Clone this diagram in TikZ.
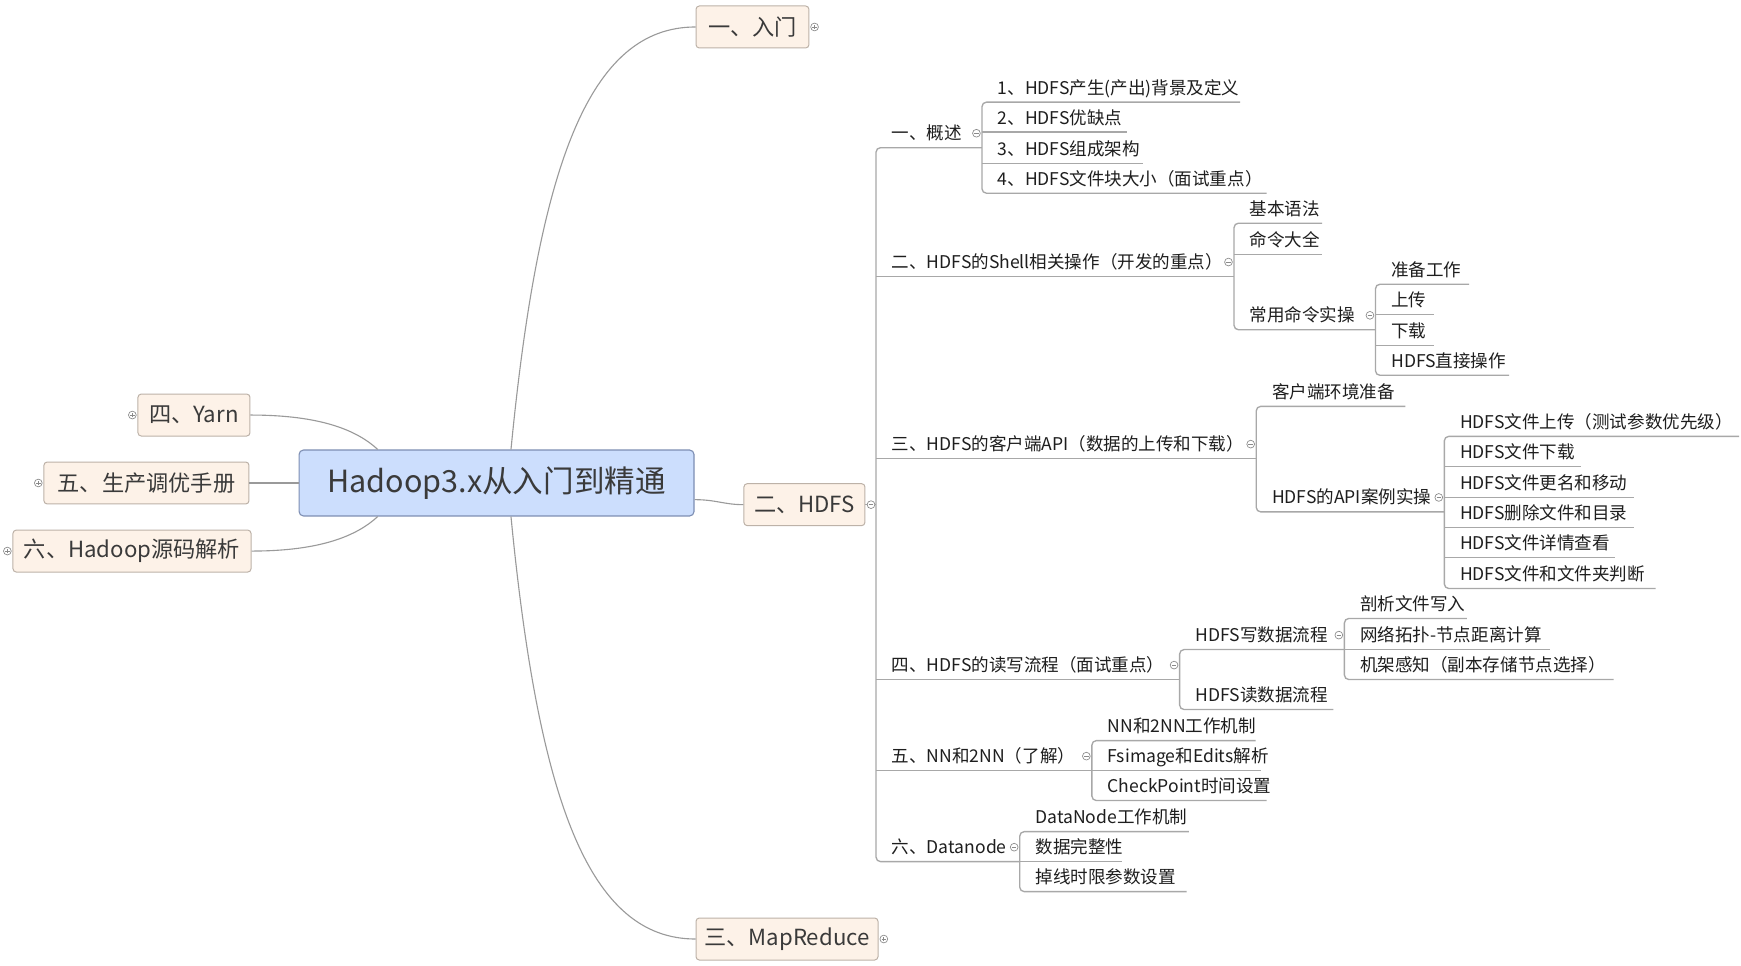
\documentclass[tikz,border=0pt]{standalone}
\usepackage{fontspec}
\setmainfont{Noto Sans CJK SC}
\usetikzlibrary{calc}
\definecolor{linec}{HTML}{A8A8A8}
\definecolor{curvec}{HTML}{9A9A9A}
\definecolor{rootf}{HTML}{CCDEFD}
\definecolor{rootb}{HTML}{7D8EB3}
\definecolor{mainf}{HTML}{FDF2E8}
\definecolor{mainb}{HTML}{BDB2A8}
\definecolor{txt}{HTML}{3A3A3A}
\definecolor{stxt}{HTML}{1E1E1E}
\definecolor{mkc}{HTML}{8A8A8A}
\tikzset{
  rootbox/.style={draw=rootb, fill=rootf, rounded corners=4pt, line width=1pt,
    minimum width=355.7pt, minimum height=59.4pt, inner sep=0pt,
    font=\fontsize{27.5}{30}\selectfont, text=txt},
  mainbox/.style={draw=mainb, fill=mainf, rounded corners=3pt, line width=0.9pt,
    minimum height=37.8pt, inner sep=0pt, font=\fontsize{20}{23}\selectfont, text=txt},
  sub/.style={anchor=south west, inner xsep=14pt, inner ysep=4pt, text height=12pt,
    text depth=3pt, align=left, text width=#1pt,
    font=\fontsize{15.8}{18}\selectfont, text=stxt},
  ul/.style={draw=linec, line width=1.2pt},
  br/.style={ul, rounded corners=4pt},
  conn/.style={draw=curvec, line width=1pt},
  mk/.style={circle, draw=mkc, fill=white, line width=0.6pt, minimum size=7pt, inner sep=0pt},
  mminus/.style={mk, path picture={\draw[mkc, line width=0.7pt]
     ([xshift=-2pt]path picture bounding box.center) -- ([xshift=2pt]path picture bounding box.center);}},
  mplus/.style={mk, path picture={\draw[mkc, line width=0.7pt]
     ([xshift=-2pt]path picture bounding box.center) -- ([xshift=2pt]path picture bounding box.center)
     ([yshift=-2pt]path picture bounding box.center) -- ([yshift=2pt]path picture bounding box.center);}},
}
\begin{document}
\begin{tikzpicture}[x=1pt,y=-1pt]
\useasboundingbox (0,0) rectangle (1568,870);
\fill[white] (0,0) rectangle (1568,870);

% root and main topics
\node[rootbox] (root) at (447.2,435) {Hadoop3.x从入门到精通};
\node[mainbox, minimum width=101.7pt] (rm) at (677.7,24.3) {一、入门};
\node[mainbox, minimum width=163.9pt] (mr) at (708.8,845.7) {三、MapReduce};
\node[mainbox, minimum width=100.9pt] (yarn) at (174.7,373.8) {四、Yarn};
\node[mainbox, minimum width=184.7pt] (wu) at (131.9,435) {五、生产调优手册};
\node[mainbox, minimum width=214.4pt] (liu) at (118.9,496.3) {六、Hadoop源码解析};
\node[mainbox, minimum width=109pt] (hdfs) at (724.5,454.5) {二、HDFS};

% root connectors
\draw[conn] ([xshift=13pt]root.north) .. controls (485,150) and (530,24.3) .. (rm.west);
\draw[conn] ([xshift=13pt]root.south) .. controls (485,720) and (530,845.7) .. (mr.west);
\draw[conn] (yarn.east) .. controls (290,373.8) and (322,388) .. ([xshift=-107pt]root.north);
\draw[conn] (wu.east) -- (root.west);
\draw[conn] (liu.east) .. controls (290,496.3) and (322,482) .. ([xshift=-107pt]root.south);
\draw[conn] ([yshift=-15pt]root.east) .. controls (645,450) and (652,454.5) .. (hdfs.west);

% HDFS level 1
\node[sub=67]  (gs)  at (789,133) {一、概述};
\node[sub=294] (sh)  at (789,249) {\mbox{二、HDFS的Shell相关操作（开发的重点）}};
\node[sub=314] (api) at (789,413) {\mbox{三、HDFS的客户端API（数据的上传和下载）}};
\node[sub=245] (rw)  at (789,612) {\mbox{四、HDFS的读写流程（面试重点）}};
\node[sub=166] (nn)  at (789,694) {\mbox{五、NN和2NN（了解）}};
\node[sub=101] (dn)  at (789,776) {六、Datanode};

% 概述
\node[sub=204] (g1) at (gs.south east |- 0,92)  {\mbox{1、HDFS产生(产出)背景及定义}};
\node[sub=102] (g2) at (gs.south east |- 0,119) {2、HDFS优缺点};
\node[sub=117] (g3) at (gs.south east |- 0,147) {3、HDFS组成架构};
\node[sub=228] (g4) at (gs.south east |- 0,174) {\mbox{4、HDFS文件块大小（面试重点）}};

% Shell
\node[sub=51] (s1) at (sh.south east |- 0,201) {基本语法};
\node[sub=51] (s2) at (sh.south east |- 0,229) {命令大全};
\node[sub=99] (s3) at (sh.south east |- 0,297) {常用命令实操};
\node[sub=56] (s31) at (s3.south east |- 0,256) {准备工作};
\node[sub=24] (s32) at (s3.south east |- 0,283) {上传};
\node[sub=24] (s33) at (s3.south east |- 0,311) {下载};
\node[sub=92] (s34) at (s3.south east |- 0,338) {HDFS直接操作};

% API
\node[sub=106] (a1) at (api.south east |- 0,366) {客户端环境准备};
\node[sub=141] (a2) at (api.south east |- 0,461) {HDFS的API案例实操};
\node[sub=237] (a21) at (a2.south east |- 0,393) {\mbox{HDFS文件上传（测试参数优先级）}};
\node[sub=95]  (a22) at (a2.south east |- 0,420) {HDFS文件下载};
\node[sub=142] (a23) at (a2.south east |- 0,448) {HDFS文件更名和移动};
\node[sub=142] (a24) at (a2.south east |- 0,475) {HDFS删除文件和目录};
\node[sub=125] (a25) at (a2.south east |- 0,502) {HDFS文件详情查看};
\node[sub=162] (a26) at (a2.south east |- 0,530) {HDFS文件和文件夹判断};

% read / write
\node[sub=120] (r1) at (rw.south east |- 0,585) {HDFS写数据流程};
\node[sub=110] (r2) at (rw.south east |- 0,639) {HDFS读数据流程};
\node[sub=82]  (r11) at (r1.south east |- 0,557) {剖析文件写入};
\node[sub=157] (r12) at (r1.south east |- 0,585) {\mbox{网络拓扑-节点距离计算}};
\node[sub=214] (r13) at (r1.south east |- 0,612) {\mbox{机架感知（副本存储节点选择）}};

% NN
\node[sub=119] (n1) at (nn.south east |- 0,667) {NN和2NN工作机制};
\node[sub=124] (n2) at (nn.south east |- 0,694) {Fsimage和Edits解析};
\node[sub=129] (n3) at (nn.south east |- 0,721) {CheckPoint时间设置};

% Datanode
\node[sub=124] (d1) at (dn.south east |- 0,749) {DataNode工作机制};
\node[sub=64]  (d2) at (dn.south east |- 0,776) {数据完整性};
\node[sub=122] (d3) at (dn.south east |- 0,803) {掉线时限参数设置};

% spine of HDFS
\draw[ul] (hdfs.east) -- (hdfs.east -| gs.south west);
\draw[br] (gs.south east) -- (gs.south west) -- (dn.south west) -- (dn.south east);
\foreach \n in {sh,api,rw,nn} \draw[ul] (\n.south west) -- (\n.south east);

% brackets
\draw[br] (g1.south east) -- (g1.south west) -- (g4.south west) -- (g4.south east);
\foreach \n in {g2,g3} \draw[ul] (\n.south west) -- (\n.south east);

\draw[br] (s1.south east) -- (s1.south west) -- (s3.south west) -- (s3.south east);
\draw[ul] (s2.south west) -- (s2.south east);
\draw[br] (s31.south east) -- (s31.south west) -- (s34.south west) -- (s34.south east);
\foreach \n in {s32,s33} \draw[ul] (\n.south west) -- (\n.south east);

\draw[br] (a1.south east) -- (a1.south west) -- (a2.south west) -- (a2.south east);
\draw[br] (a21.south east) -- (a21.south west) -- (a26.south west) -- (a26.south east);
\foreach \n in {a22,a23,a24,a25} \draw[ul] (\n.south west) -- (\n.south east);

\draw[br] (r1.south east) -- (r1.south west) -- (r2.south west) -- (r2.south east);
\draw[br] (r11.south east) -- (r11.south west) -- (r13.south west) -- (r13.south east);
\draw[ul] (r12.south west) -- (r12.south east);

\draw[br] (n1.south east) -- (n1.south west) -- (n3.south west) -- (n3.south east);
\draw[ul] (n2.south west) -- (n2.south east);

\draw[br] (d1.south east) -- (d1.south west) -- (d3.south west) -- (d3.south east);
\draw[ul] (d2.south west) -- (d2.south east);

% markers
\node[mminus] (mk-hdfs) at ([xshift=5pt]hdfs.east) {};
\foreach \n in {gs,sh,s3,api,a2,rw,r1,nn,dn}
  \node[mminus] (mk-\n) at ([xshift=-5pt,yshift=13pt]\n.south east) {};
\node[mplus] (mk-rm) at ([xshift=4.6pt]rm.east) {};
\node[mplus] (mk-mr) at ([xshift=4.8pt]mr.east) {};
\node[mplus] (mk-yarn) at ([xshift=-4.6pt]yarn.west) {};
\node[mplus] (mk-wu) at ([xshift=-4.6pt]wu.west) {};
\node[mplus] (mk-liu) at ([xshift=-4.6pt]liu.west) {};
\end{tikzpicture}
\end{document}
